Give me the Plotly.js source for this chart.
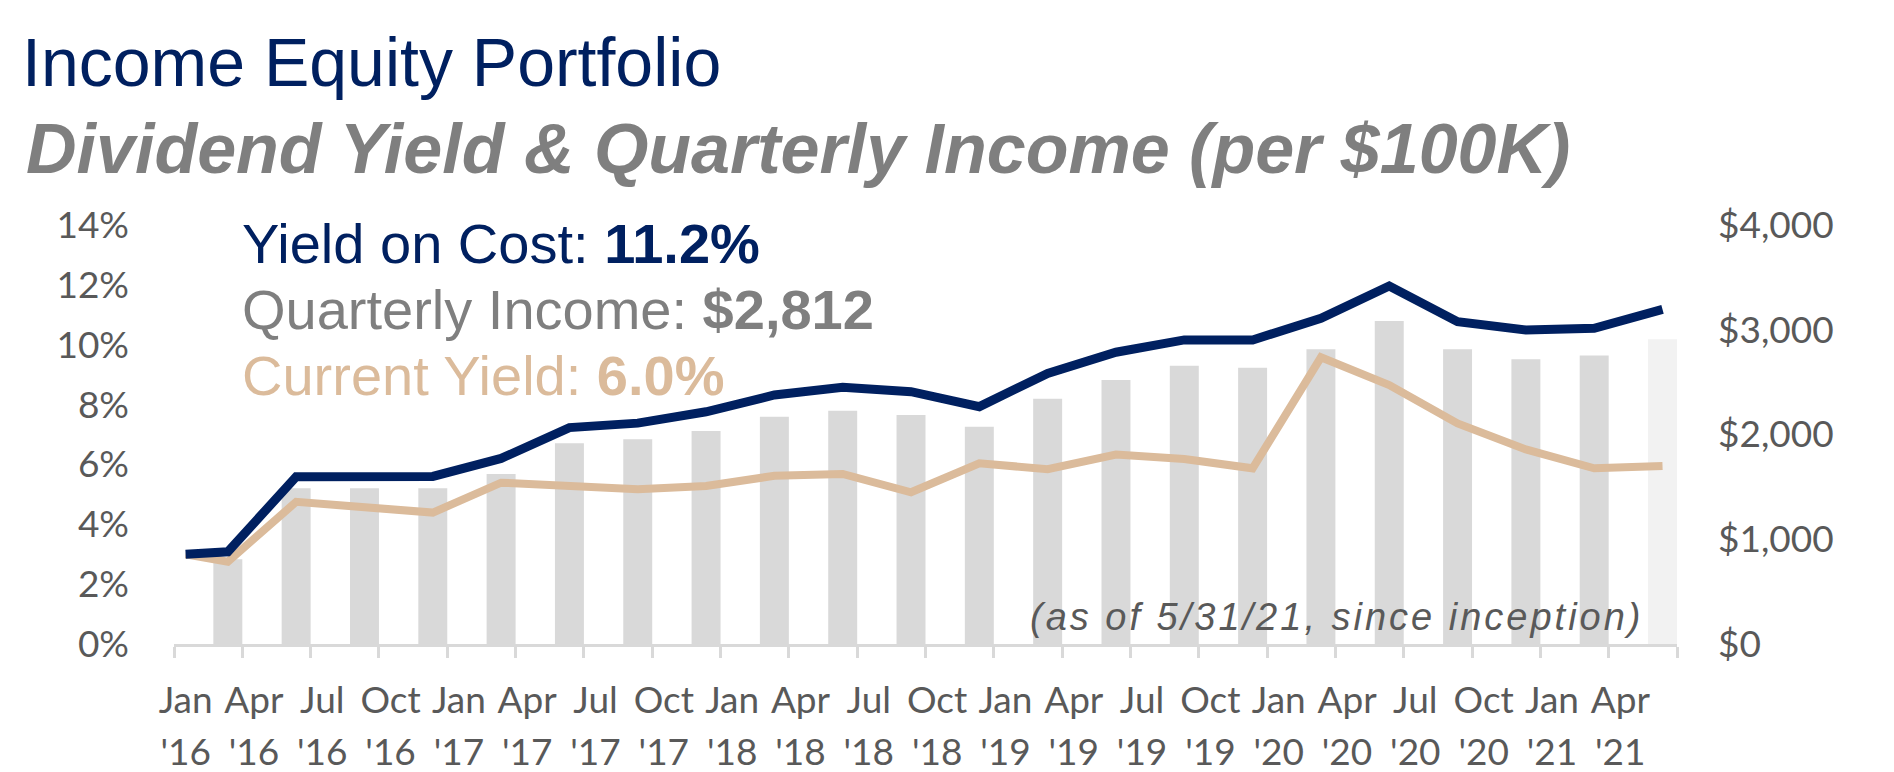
<!DOCTYPE html>
<html>
<head>
<meta charset="utf-8">
<script src="https://cdn.plot.ly/plotly-3.0.1.min.js"></script>
<style>
  html, body { margin: 0; padding: 0; background: #ffffff; }
  #chart { width: 1894px; height: 772px; }
</style>
</head>
<body>
<div id="chart"></div>
<script>
// ---- data ----
const tickMonths = ["Jan", "Apr", "Jul", "Oct", "Jan", "Apr", "Jul", "Oct",
                    "Jan", "Apr", "Jul", "Oct", "Jan", "Apr", "Jul", "Oct",
                    "Jan", "Apr", "Jul", "Oct", "Jan", "Apr"];
const tickYears = ["'16", "'16", "'16", "'16", "'17", "'17", "'17", "'17",
                   "'18", "'18", "'18", "'18", "'19", "'19", "'19", "'19",
                   "'20", "'20", "'20", "'20", "'21", "'21"];
// quarterly income per $100K (one bar per quarter, last one partial)
const quarterlyIncome = [810, 1486, 1486, 1486, 1623, 1916, 1955, 2033, 2170, 2227, 2186,
                         2075, 2342, 2520, 2657, 2638, 2813, 3084, 2813, 2718, 2753, 2909];
// yields (%), first point = inception
const yieldOnCost = [3.0, 3.08, 5.59, 5.59, 5.6, 6.2, 7.23, 7.38, 7.76, 8.32, 8.58, 8.43,
                     7.93, 9.04, 9.75, 10.16, 10.16, 10.88, 11.96, 10.77, 10.49, 10.55, 11.18];
const currentYield = [3.0, 2.75, 4.75, 4.59, 4.39, 5.39, 5.26, 5.17, 5.28, 5.62, 5.68, 5.07,
                      6.04, 5.84, 6.33, 6.18, 5.87, 9.58, 8.65, 7.37, 6.5, 5.87, 5.95];
const pctTicks = [0, 2, 4, 6, 8, 10, 12, 14];
const dollarTicks = [0, 1000, 2000, 3000, 4000];

// ---- geometry / style ----
const W = 1894, H = 772;
const L = 174, R = 217, T = 225, B = 128;
const PW = W - L - R, PH = H - T - B;
const nQ = tickMonths.length;
const barOffset = 0.788, barWidth = 0.424, startOffset = 0.17, labelOffset = 0.17;

const barX = quarterlyIncome.map((_, i) => i + barOffset);
const lineX = [startOffset].concat(barX);
const barColors = quarterlyIncome.map((_, i) => i === quarterlyIncome.length - 1 ? '#f2f2f2' : '#d9d9d9');
const labelX = tickMonths.map((_, i) => i + labelOffset);

const px2x = p => (p - L) / PW;
const px2y = p => (H - B - p) / PH;

const navy = '#002060', tan = '#dbbb9b', gray = '#7f7f7f', axisGray = '#595959';
const arial = 'Liberation Sans, Arial, sans-serif';
const tickFont = {family: 'Lato, Calibri, sans-serif', size: 37, color: axisGray};

const traces = [
  {type: 'bar', x: barX, y: quarterlyIncome, width: barWidth, xaxis: 'x', yaxis: 'y',
   marker: {color: barColors, line: {width: 0}}, hoverinfo: 'skip'},
  {type: 'scatter', mode: 'lines', x: lineX, y: currentYield, xaxis: 'x2', yaxis: 'y2',
   line: {color: tan, width: 8}, hoverinfo: 'skip'},
  {type: 'scatter', mode: 'lines', x: lineX, y: yieldOnCost, xaxis: 'x2', yaxis: 'y2',
   line: {color: navy, width: 9}, hoverinfo: 'skip'}
];

const ann = (text, xpx, ypx, font, anchor) => ({
  text: text, xref: 'paper', yref: 'paper', x: px2x(xpx), y: px2y(ypx),
  xanchor: anchor || 'left', yanchor: 'middle', showarrow: false, font: font
});

const layout = {
  width: W, height: H,
  margin: {l: L, r: R, t: T, b: B, pad: 0},
  paper_bgcolor: '#ffffff', plot_bgcolor: '#ffffff',
  showlegend: false, hovermode: false,
  title: {text: 'Income Equity Portfolio', font: {family: arial, size: 68, color: navy},
          xref: 'container', yref: 'container', x: 22 / W, xanchor: 'left',
          y: 1 - 62 / H, yanchor: 'middle'},
  xaxis: {range: [0, nQ], showgrid: false, zeroline: false,
          showline: true, linecolor: '#d9d9d9', linewidth: 3,
          tickmode: 'array', tickvals: labelX, ticktext: tickMonths,
          ticks: '', tickfont: tickFont, ticklabelstandoff: 22,
          minor: {tickmode: 'array', tickvals: Array.from({length: nQ + 1}, (_, i) => i),
                  ticks: 'outside', ticklen: 11, tickwidth: 3, tickcolor: '#d9d9d9', showgrid: false}},
  xaxis2: {overlaying: 'x', anchor: 'y', side: 'bottom', range: [0, nQ],
           showgrid: false, zeroline: false, showline: false,
           tickmode: 'array', tickvals: labelX, ticktext: tickYears,
           ticks: '', tickfont: tickFont, ticklabelstandoff: 83},
  yaxis: {side: 'right', range: [0, 4000], showgrid: false, zeroline: false, showline: false,
          tickmode: 'array', tickvals: dollarTicks,
          ticktext: dollarTicks.map(v => '$' + v.toLocaleString('en-US')),
          ticks: '', tickfont: tickFont, ticklabelstandoff: 40},
  yaxis2: {overlaying: 'y', side: 'left', anchor: 'x2', range: [0, 14], showgrid: false, zeroline: false,
           showline: false, tickmode: 'array', tickvals: pctTicks,
           ticktext: pctTicks.map(v => v + '%'),
           ticks: '', tickfont: tickFont, ticklabelstandoff: 44},
  annotations: [
    ann('<b><i>Dividend Yield &amp; Quarterly Income (per $100K)</i></b>', 24, 148.5,
        {family: arial, size: 70, color: gray}),
    ann('Yield on Cost: <b>11.2%</b>', 240, 243.4, {family: arial, size: 56, color: navy}),
    ann('Quarterly Income: <b>$2,812</b>', 240, 309.4, {family: arial, size: 56, color: gray}),
    ann('Current Yield: <b>6.0%</b>', 240, 375.4, {family: arial, size: 56, color: tan}),
    ann('<i><span style="letter-spacing:3px">(as of 5/31/21, since inception)</span></i>', 1337, 617,
        {family: arial, size: 38, color: axisGray}, 'center')
  ]
};

Plotly.newPlot('chart', traces, layout, {staticPlot: true, displayModeBar: false});
</script>
</body>
</html>
